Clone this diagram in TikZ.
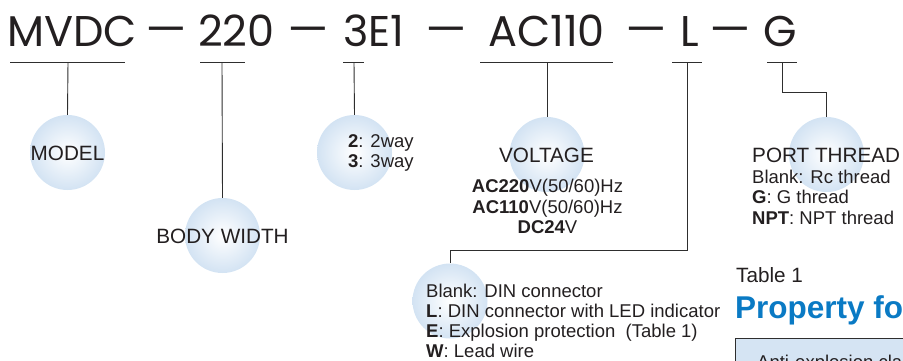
\documentclass[tikz,border=0pt]{standalone}
\usepackage{fontspec}
\setmainfont{Liberation Sans}
\newfontfamily\titlefont{Poppins}
\definecolor{ink}{HTML}{231F20}
\definecolor{linecol}{HTML}{2E2E2E}
\definecolor{bubblecol}{HTML}{D3E3F3}
\definecolor{ptblue}{HTML}{0A7AC4}
\definecolor{boxfill}{HTML}{D5E4F3}
\begin{document}
\begin{tikzpicture}[x=1pt,y=-1pt,
  bubble/.style={circle, minimum size=75pt, inner sep=0pt, shading=radial, inner color=white, outer color=bubblecol},
  title/.style={anchor=base, inner sep=0pt, text=ink, font=\titlefont\fontsize{43}{50}\selectfont},
  tdash/.style={title, xscale=1.5},
  big/.style={anchor=base, inner sep=0pt, text=ink, font=\fontsize{20.7}{24}\selectfont},
  small/.style={anchor=base west, inner sep=0pt, text=ink, font=\fontsize{18.5}{21}\selectfont},
  smallc/.style={anchor=base, inner sep=0pt, text=ink, font=\fontsize{18.5}{21}\selectfont},
  conn/.style={draw=linecol, line width=0.9pt}]
\useasboundingbox (0,0) rectangle (903,360);
\clip (0,0) rectangle (903,360);
% bubbles
\node[bubble] (cModel) at (67.5,152.5) {};
\node[bubble] (cWidth) at (222.5,235.5) {};
\node[bubble] (cWay) at (354.5,152.5) {};
\node[bubble] (cVolt) at (547,154.5) {};
\node[bubble] (cPort) at (826.5,154.5) {};
\node[bubble] (cConn) at (450,301) {};
% title
\node[title] (tModel) at (72,46) {MVDC};
\node[tdash] (d1) at (166.5,44) {–};
\node[title] (tWidth) at (236.5,46) {220};
\node[tdash] (d2) at (308.5,44) {–};
\node[title] (tWay) at (374,46) {3E1};
\node[tdash] (d3) at (446.5,44) {–};
\node[title] (tVolt) at (546.5,46) {AC110};
\node[tdash] (d4) at (646.5,44) {–};
\node[title] (tConn) at (690,46) {L};
\node[tdash] (d5) at (730,44) {–};
\node[title] (tPort) at (780,46) {G};
% underline coordinates
\coordinate (uModel) at (68,62);
\coordinate (uWidth) at (222,62);
\coordinate (uWay) at (354,62);
\coordinate (uVolt) at (547,62);
\coordinate (uConn) at (687,62);
\coordinate (uPort) at (782,62);
\draw[conn] (10,62) -- (125,62);
\draw[conn] (200,62) -- (245,62);
\draw[conn] (343,62) -- (364,62);
\draw[conn] (480,62) -- (613,62);
\draw[conn] (672,62) -- (702,62);
\draw[conn] (767,62) -- (797,62);
% connectors
\draw[conn] (uModel) -- (cModel.north);
\draw[conn] (uWidth) -- (cWidth.north);
\draw[conn] (uWay) -- (cWay.north);
\draw[conn] (uVolt) -- (cVolt.north);
\draw[conn] (uConn) -- (687,250) -| (cConn.north);
\draw[conn] (uPort) -- (782,92) -| (cPort.north);
% labels
\node[big] (lModel) at (67.5,160) {MODEL};
\node[big] (lWidth) at (222.5,243) {BODY WIDTH};
\node[small] (lWay1) at (348,147) {\textbf{2}: 2way};
\node[small] (lWay2) at (348,167) {\textbf{3}: 3way};
\node[big] (lVolt) at (546.5,162) {VOLTAGE};
\node[smallc] (lVolt1) at (547.5,192) {\textbf{AC220}V(50/60)Hz};
\node[smallc] (lVolt2) at (547.5,213) {\textbf{AC110}V(50/60)Hz};
\node[smallc] (lVolt3) at (547.5,233) {\textbf{DC24}V};
\node[big, anchor=base west] (lPort) at (752,162) {PORT THREAD};
\node[small] (lPort1) at (752,183) {Blank: Rc thread};
\node[small] (lPort2) at (752,203) {\textbf{G}: G thread};
\node[small] (lPort3) at (752,224) {\textbf{NPT}: NPT thread};
\node[small] (lConn1) at (426,297) {Blank: DIN connector};
\node[small] (lConn2) at (426,317) {\textbf{L}: DIN connector with LED indicator};
\node[small] (lConn3) at (426,337) {\textbf{E}: Explosion protection\ \ (Table 1)};
\node[small] (lConn4) at (426,357) {\textbf{W}: Lead wire};
% table part
\node[big, anchor=base west] (tab) at (736,282) {Table 1};
\node[anchor=base west, inner sep=0pt, text=ptblue, font=\bfseries\fontsize{31.5}{34}\selectfont] (prop) at (735,318) {Property fo};
\node[draw=linecol, line width=0.9pt, fill=boxfill, anchor=north west, minimum width=200pt, minimum height=40pt, inner sep=0pt] (tbox) at (735,338) {};
\node[small] (anti) at (757,368) {Anti-explosion cla};
\end{tikzpicture}
\end{document}
